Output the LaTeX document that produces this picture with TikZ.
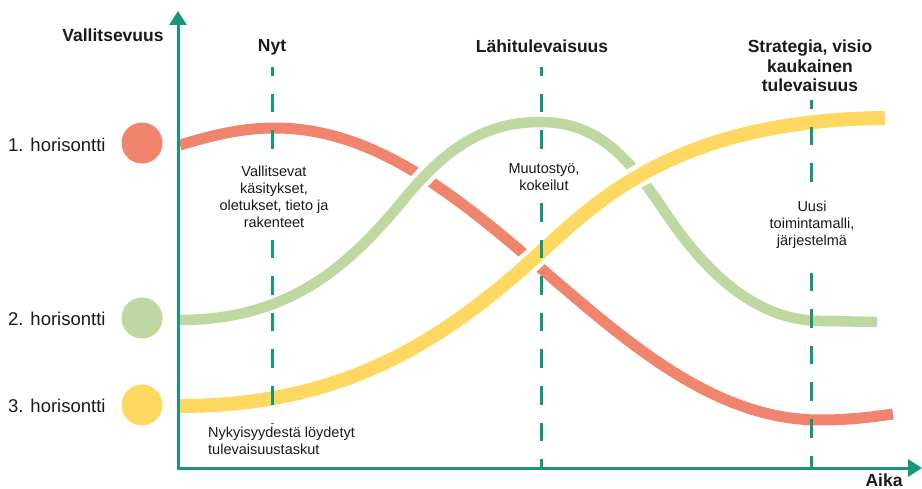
\documentclass[tikz,border=0pt]{standalone}
\usepackage{fontspec}
\setmainfont{Liberation Sans}
\usetikzlibrary{arrows.meta}
\definecolor{axiscol}{HTML}{16967A}
\definecolor{hred}{HTML}{F0846C}
\definecolor{hgreen}{HTML}{BFD7A1}
\definecolor{hyellow}{HTML}{FFD862}
\definecolor{ink}{HTML}{1A1A1A}
\begin{document}
\begin{tikzpicture}[x=1pt,y=-1pt,
  lbl/.style={font=\fontsize{18.5}{22}\selectfont, text=ink, inner sep=0pt, anchor=west},
  ttl/.style={font=\bfseries\fontsize{17.5}{19.5}\selectfont, text=ink, align=center, inner sep=0pt},
  note/.style={font=\fontsize{14.5}{16.8}\selectfont, text=ink, align=center, fill=white, inner xsep=3pt, inner ysep=7pt},
  dot/.style={circle, minimum size=41pt, inner sep=0pt, draw=none},
  guide/.style={draw=axiscol, line width=3pt, dash pattern=on 18.5pt off 18pt, dash phase=9.5pt},
  axisline/.style={draw=axiscol, line width=3pt, {Triangle[width=17pt,length=14pt]}-{Triangle[width=17pt,length=14pt]}},
]
\useasboundingbox (0,0) rectangle (922,489);
\coordinate (o) at (178,468);
\coordinate (ytip) at (178,11);
\coordinate (xtip) at (922,468);

% red curve (1. horisontti)
\draw[hred, line width=11pt] (180,145) .. controls (210,136) and (240,128) .. (275,128)
  .. controls (480,128) and (615,420) .. (820,420)
  .. controls (850,420) and (872,417) .. (893,414);
% green curve (2. horisontti)
\draw[draw=white, line width=4.5pt, double=hgreen, double distance=10.5pt]
  (180,320) .. controls (290,320) and (350,265) .. (405,198)
  .. controls (450,143) and (490,122) .. (540,122)
  .. controls (600,122) and (630,160) .. (665,212)
  .. controls (700,264) and (750,320) .. (820,321)
  .. controls (845,321) and (860,322) .. (877,322);
% yellow curve (3. horisontti)
\draw[draw=white, line width=4.5pt, double=hyellow, double distance=14pt]
  (180,406) .. controls (350,406) and (450,335) .. (541,252)
  .. controls (600,198) and (680,120) .. (885,118);

% bottom note (the first guide stops above it)
\node[note, fill=none, inner ysep=0pt, inner xsep=0pt, align=left, anchor=west] (n4) at (208,441) {Nykyisyydestä löydetyt\\tulevaisuustaskut};

% guides
\coordinate (g1) at (272,67);
\coordinate (g2) at (541,67);
\coordinate (g3) at (811,100);
\draw[guide] (g1) -- ([yshift=4pt]g1 |- n4.north);
\draw[guide] (g2) -- (g2 |- o);
\draw[guide] (g3) -- (g3 |- o);

% axes
\draw[axisline] (ytip) -- (o) -- (xtip);

% legend
\node[dot, fill=hred] (c1) at (142,143) {};
\node[dot, fill=hgreen] (c2) at (142,318) {};
\node[dot, fill=hyellow] (c3) at (142,405) {};
\node[lbl] (l1) at (8,145) {1. horisontti};
\node[lbl] (l2) at (8,319) {2. horisontti};
\node[lbl] (l3) at (8,406) {3. horisontti};

% titles
\node[ttl] (yl) at (113,35) {Vallitsevuus};
\node[ttl] (xl) at (884,480) {Aika};
\node[ttl] (t1) at (272,47) {Nyt};
\node[ttl] (t2) at (542,46) {Lähitulevaisuus};
\node[ttl] (t3) at (810,66) {Strategia, visio\\kaukainen\\tulevaisuus};

% notes
\node[note] (n1) at (274,197) {Vallitsevat\\käsitykset,\\oletukset, tieto ja\\rakenteet};
\node[note] (n2) at (544,177) {Muutostyö,\\kokeilut};
\node[note, inner ysep=8pt] (n3) at (812,225) {Uusi\\toimintamalli,\\järjestelmä};
\end{tikzpicture}
\end{document}
